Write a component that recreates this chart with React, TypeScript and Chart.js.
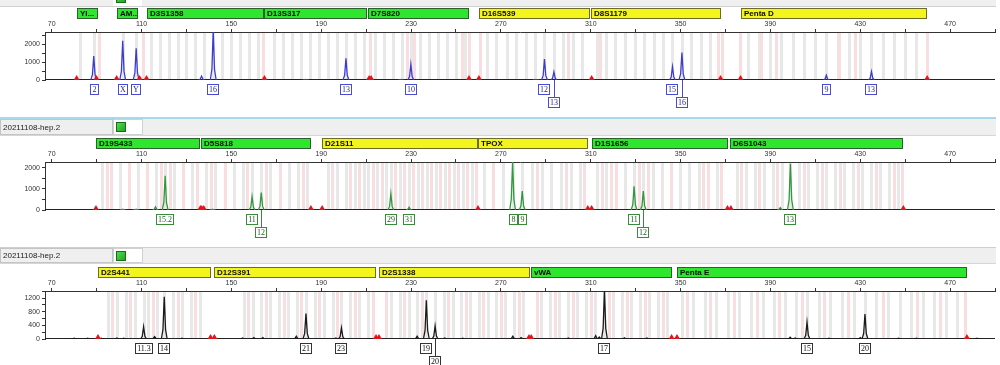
import React, { useEffect, useRef } from "react";
import { Chart, registerables } from "chart.js";

Chart.register(...registerables);

// ---------- shared axis data ----------
const X_MIN = 67;
const X_MAX = 490;
const xTickValues = [70, 90, 110, 130, 150, 170, 190, 210, 230, 250, 270, 290, 310, 330, 350, 370, 390, 410, 430, 450, 470, 490];
const xLabelValues = [70, 110, 150, 190, 230, 270, 310, 350, 390, 430, 470];
const sampleName = "20211108-hep.2";

// ---------- panel 1 (blue dye) ----------
const p1LocusNames = ["YI...", "AM...", "D3S1358", "D13S317", "D7S820", "D16S539", "D8S1179", "Penta D"];
const p1LocusStart = [81.1, 98.9, 112.2, 164.7, 211.0, 260.2, 310.0, 376.7];
const p1LocusEnd = [90.4, 108.2, 164.4, 210.4, 255.8, 309.6, 368.0, 459.8];
const p1LocusStatus = ["G", "G", "G", "G", "G", "Y", "Y", "Y"];
const p1PeakSizes = [88.7, 101.6, 107.6, 141.9, 201.0, 229.9, 289.4, 293.6, 346.4, 350.6, 414.9, 435.0];
const p1PeakHeights = [1350, 2200, 1790, 2750, 1220, 885, 1180, 450, 750, 1540, 265, 470];
const p1PeakLabels = ["2", "X", "Y", "16", "13", "10", "12", "13", "15", "16", "9", "13"];
const p1LabelRows = [0, 0, 0, 0, 0, 0, 0, 1, 0, 1, 0, 0];
const p1MinorSizes = [136.7, 183.0, 225.6, 285.6];
const p1MinorHeights = [220, 30, 30, 30];
const p1Markers = [81.1, 89.9, 98.9, 109.1, 112.2, 164.7, 211.3, 212.2, 255.8, 260.2, 310.4, 367.8, 376.7, 459.8];
const p1GrayBins = [82.5, 88.7, 101.6, 107.6, 114, 118, 122, 126, 130, 134, 138, 141.9, 146, 150, 154, 158, 162,
  169, 173, 177, 181, 185, 189, 193, 197, 201, 205, 209, 214, 218, 222, 226, 229.9, 234, 238, 242, 246, 250, 254,
  264, 268, 272.6, 276.8, 281, 285.2, 289.4, 293.6, 297.8, 302, 306, 313, 317, 321, 325.4, 329.6, 333.8, 338, 342.2,
  346.4, 350.6, 354.8, 359, 363.2, 379.9, 384.9, 389.9, 394.9, 399.9, 404.9, 409.9, 414.9, 419.9, 424.9, 430, 435,
  440, 445, 450, 455];
const p1PinkBins = [91, 110.5, 164, 211.5, 228, 231.5, 252.5, 256, 260.5, 300, 314, 366.5, 368.5, 376.5, 386, 392.5, 420.5, 427.5, 459.5];

// ---------- panel 2 (green dye) ----------
const p2LocusNames = ["D19S433", "D5S818", "D21S11", "TPOX", "D1S1656", "D6S1043"];
const p2LocusStart = [89.6, 136.5, 190.4, 259.8, 310.4, 372.0];
const p2LocusEnd = [136.1, 185.4, 259.8, 308.7, 370.9, 449.2];
const p2LocusStatus = ["G", "G", "Y", "Y", "G", "G"];
const p2PeakSizes = [120.5, 159.2, 163.3, 221.0, 229.1, 275.2, 279.5, 329.3, 333.4, 398.9];
const p2PeakHeights = [1620, 630, 830, 770, 130, 2300, 900, 1130, 900, 2200];
const p2PeakLabels = ["15.2", "11", "12", "29", "31", "8", "9", "11", "12", "13"];
const p2LabelRows = [0, 0, 1, 0, 0, 0, 0, 0, 1, 0];
const p2MinorSizes = [101.6, 107.6, 116.2, 141.6, 394.4];
const p2MinorHeights = [40, 40, 150, 40, 110];
const p2Markers = [89.7, 136.2, 136.8, 137.7, 185.4, 190.4, 259.8, 308.7, 310.4, 370.9, 372.4, 449.2];
const p2GrayBins = [92.5, 100.5, 108.5, 116.5, 120.5, 124.5, 132.5, 138.8, 142.9, 151, 155.1, 159.2, 163.3, 167.4,
  175.6, 179.7, 183.8, 193, 197, 201, 205, 209, 211, 215, 219, 221, 225, 229.1, 233, 237, 241, 245, 249, 253, 257,
  262.3, 270.9, 275.2, 279.5, 283.8, 288.1, 292.4, 296.7, 301, 305.3, 313, 317, 325.2, 329.3, 333.4, 337.5, 341.6,
  349.8, 353.9, 358, 366.2, 375, 379, 383, 387, 391, 395, 398.9, 402.9, 406.9, 410.9, 414.9, 418.9, 422.9, 426.9,
  430.9, 434.9, 438.9, 442.9, 446.9];
const p2PinkBins = [94.5, 96.5, 104.5, 112.5, 118.5, 122.5, 128.5, 134.5, 140.8, 147, 157.1, 165.3, 171.5, 181.7,
  195, 203, 207, 213, 217, 223, 227, 231, 235, 239, 243, 247, 251, 255, 259, 266.6, 286, 298.8, 307, 315, 319, 321.1,
  331.3, 335.4, 345.7, 360, 362.1, 368.2, 377, 385, 393, 404.9, 412.9, 420.9, 428.9, 436.9, 444.9, 448.5];

// ---------- panel 3 (black dye) ----------
const p3LocusNames = ["D2S441", "D12S391", "D2S1338", "vWA", "Penta E"];
const p3LocusStart = [90.6, 142.4, 215.5, 283.3, 348.4];
const p3LocusEnd = [140.7, 214.6, 282.9, 346.4, 477.7];
const p3LocusStatus = ["Y", "Y", "Y", "G", "G"];
const p3PeakSizes = [110.9, 120.1, 183.2, 199.0, 236.8, 240.7, 316.1, 406.3, 432.1];
const p3PeakHeights = [360, 1240, 750, 330, 1140, 380, 1420, 490, 730];
const p3PeakLabels = ["11.3", "14", "21", "23", "19", "20", "17", "15", "20"];
const p3LabelRows = [0, 0, 0, 0, 0, 1, 0, 0, 0];
const p3MinorSizes = [80.0, 86.0, 92.0, 99.0, 102.0, 115.8, 128.0, 155.0, 160.0, 164.0, 178.9, 196.5, 232.7, 245.0, 253.0, 275.3, 279.0, 300.0, 312.2, 313.8, 325.0, 335.0, 398.8, 401.0, 416.0, 430.0, 447.0, 455.0, 482.0];
const p3MinorHeights = [25, 25, 20, 30, 25, 70, 25, 30, 40, 40, 80, 30, 80, 30, 25, 80, 40, 30, 100, 60, 35, 30, 50, 30, 25, 40, 25, 25, 20];
const p3Markers = [90.6, 140.7, 142.4, 214.4, 215.7, 282.5, 283.5, 346.0, 348.4, 477.5];
const p3GrayBins = [95, 99, 103, 107, 110.9, 113, 117, 120.1, 124, 128, 132, 136, 155.5, 159.4, 163.3, 167.2, 171.1,
  175.2, 179.2, 183.2, 187.2, 191.1, 195.1, 199, 203, 207, 211, 221, 225, 229, 232.8, 236.8, 240.7, 244.6, 248.5,
  252.4, 256.3, 260.2, 264.1, 268, 272, 276, 280, 288, 292, 296, 300, 304, 308, 312, 316.1, 320, 324, 328, 332, 336,
  340, 344, 350.5, 355.7, 360.8, 365.9, 371, 376.2, 381.3, 386.5, 391.6, 396.7, 401.2, 406.3, 411.5, 416.7, 421.8,
  427, 432.1, 437.2, 442.4, 447.5, 452.7, 457.8, 463, 468.1, 473.2];
const p3PinkBins = [97, 105, 115, 126, 134, 157.4, 165.2, 173.2, 181.2, 189.1, 197, 205, 213, 219, 227, 234.8, 246.5,
  254.3, 262.1, 270, 278, 286, 294, 302, 310, 318, 326, 334, 342, 353, 363.3, 373.6, 384, 394, 404, 414, 424.4, 440,
  455.2, 465.5, 476.5];

// ---------- styling ----------
const FONT = "Liberation Sans";
const X_AXIS_H = 13;
const Y_AXIS_W = 45;
const PEAK_HALF = 1.3;

type Panel = {
  top: number; height: number; chartTop: number; chartBottom: number;
  header: "partial" | "cyan" | "line"; yMax: number; yTicks: number[]; yLabels: number[];
  traceColor: string; boxColor: string; textColor: string;
  lociNames: string[]; lociStart: number[]; lociEnd: number[]; lociStatus: string[];
  peakSizes: number[]; peakHeights: number[]; peakLabels: string[]; labelRows: number[];
  minorSizes: number[]; minorHeights: number[]; markers: number[]; grayBins: number[]; pinkBins: number[];
};

const panels: Panel[] = [
  {
    top: 0, height: 117, chartTop: 32, chartBottom: 80, header: "partial", yMax: 2700,
    yTicks: [0, 500, 1000, 1500, 2000, 2500], yLabels: [0, 1000, 2000],
    traceColor: "#3c3cd2", boxColor: "#4a4ad8", textColor: "#1e1e8c",
    lociNames: p1LocusNames, lociStart: p1LocusStart, lociEnd: p1LocusEnd, lociStatus: p1LocusStatus,
    peakSizes: p1PeakSizes, peakHeights: p1PeakHeights, peakLabels: p1PeakLabels, labelRows: p1LabelRows,
    minorSizes: p1MinorSizes, minorHeights: p1MinorHeights, markers: p1Markers, grayBins: p1GrayBins, pinkBins: p1PinkBins,
  },
  {
    top: 117, height: 123, chartTop: 45, chartBottom: 93, header: "cyan", yMax: 2280,
    yTicks: [0, 500, 1000, 1500, 2000], yLabels: [0, 1000, 2000],
    traceColor: "#2f9a3a", boxColor: "#3a8a3a", textColor: "#1a5a1a",
    lociNames: p2LocusNames, lociStart: p2LocusStart, lociEnd: p2LocusEnd, lociStatus: p2LocusStatus,
    peakSizes: p2PeakSizes, peakHeights: p2PeakHeights, peakLabels: p2PeakLabels, labelRows: p2LabelRows,
    minorSizes: p2MinorSizes, minorHeights: p2MinorHeights, markers: p2Markers, grayBins: p2GrayBins, pinkBins: p2PinkBins,
  },
  {
    top: 240, height: 125, chartTop: 51, chartBottom: 99, header: "line", yMax: 1410,
    yTicks: [0, 200, 400, 600, 800, 1000, 1200, 1400], yLabels: [0, 400, 800, 1200],
    traceColor: "#1a1a1a", boxColor: "#333333", textColor: "#111111",
    lociNames: p3LocusNames, lociStart: p3LocusStart, lociEnd: p3LocusEnd, lociStatus: p3LocusStatus,
    peakSizes: p3PeakSizes, peakHeights: p3PeakHeights, peakLabels: p3PeakLabels, labelRows: p3LabelRows,
    minorSizes: p3MinorSizes, minorHeights: p3MinorHeights, markers: p3Markers, grayBins: p3GrayBins, pinkBins: p3PinkBins,
  },
];

function buildTrace(p: Panel) {
  const sizes = [...p.peakSizes, ...p.minorSizes];
  const heights = [...p.peakHeights, ...p.minorHeights];
  const order = sizes.map((_, i) => i).sort((a, b) => sizes[a] - sizes[b]);
  const pts: { x: number; y: number | null }[] = [];
  for (const i of order) {
    const s = sizes[i];
    const h = heights[i];
    pts.push(
      { x: s - PEAK_HALF, y: 0 },
      { x: s - PEAK_HALF * 0.45, y: h * 0.22 },
      { x: s, y: h },
      { x: s + PEAK_HALF * 0.45, y: h * 0.22 },
      { x: s + PEAK_HALF, y: 0 },
      { x: s + PEAK_HALF, y: null }
    );
  }
  return pts;
}

function drawGreenIcon(ctx: CanvasRenderingContext2D, x: number, y: number) {
  const g = ctx.createLinearGradient(x, y, x + 10, y + 10);
  g.addColorStop(0, "#5be05b");
  g.addColorStop(1, "#18a018");
  ctx.fillStyle = g;
  ctx.fillRect(x, y, 10, 10);
  ctx.strokeStyle = "#1a6a1a";
  ctx.lineWidth = 1;
  ctx.strokeRect(x + 0.5, y + 0.5, 9, 9);
}

function makePlugin(p: Panel) {
  return {
    id: "strPanel",
    beforeDatasetsDraw(chart: any) {
      const { ctx, chartArea, scales } = chart;
      const { top, left, right, bottom } = chartArea;
      const x = scales.x;
      const y0 = Math.round(scales.y.getPixelForValue(0));
      ctx.save();
      ctx.beginPath();
      ctx.rect(left + 1, top + 1, right - left - 1, bottom - top);
      ctx.clip();
      ctx.fillStyle = "#e8e8e8";
      for (const b of p.grayBins) {
        const px = Math.round(x.getPixelForValue(b));
        ctx.fillRect(px - 1, top + 1, 3, y0 - top - 2);
      }
      ctx.fillStyle = "#f8dede";
      for (const b of p.pinkBins) {
        const px = Math.round(x.getPixelForValue(b));
        ctx.fillRect(px - 1, top + 1, 3, y0 - top - 2);
      }
      ctx.restore();
      ctx.save();
      ctx.fillStyle = "#222";
      ctx.fillRect(left, y0 - 1, right - left, 1);
      ctx.restore();
    },
    afterDraw(chart: any) {
      const { ctx, chartArea, scales } = chart;
      const { top, bottom } = chartArea;
      const x = scales.x;
      const y0 = Math.round(scales.y.getPixelForValue(0));
      ctx.save();

      // size-standard markers (red triangles)
      ctx.fillStyle = "#e3141a";
      for (const m of p.markers) {
        const px = x.getPixelForValue(m);
        ctx.beginPath();
        ctx.moveTo(px - 3, y0);
        ctx.lineTo(px + 3, y0);
        ctx.lineTo(px, y0 - 5);
        ctx.closePath();
        ctx.fill();
      }

      // header strip
      const W = 996;
      if (p.header === "partial") {
        ctx.fillStyle = "#efefef";
        ctx.fillRect(0, 0, W, 6);
        ctx.fillStyle = "#d0d0d0";
        ctx.fillRect(0, 6, W, 1);
        ctx.fillStyle = "#ffffff";
        ctx.fillRect(113, 0, 29, 6);
        drawGreenIcon(ctx, 116, -7);
      } else {
        const sTop = p.header === "cyan" ? 2 : 8;
        const sBot = p.header === "cyan" ? 18 : 23;
        if (p.header === "cyan") {
          ctx.fillStyle = "#a3dbe8";
          ctx.fillRect(0, 0, W, 2);
        } else {
          ctx.fillStyle = "#cfcfcf";
          ctx.fillRect(0, sTop - 1, W, 1);
        }
        ctx.fillStyle = "#efefef";
        ctx.fillRect(0, sTop, W, sBot - sTop);
        ctx.fillStyle = "#d6d6d6";
        ctx.fillRect(0, sBot, W, 1);
        ctx.strokeStyle = "#c4c4c4";
        ctx.lineWidth = 1;
        ctx.strokeRect(0.5, sTop + 0.5, 112, sBot - sTop - 1);
        ctx.fillStyle = "#ffffff";
        ctx.fillRect(113, sTop, 29, sBot - sTop);
        ctx.strokeStyle = "#d0d0d0";
        ctx.strokeRect(113.5, sTop + 0.5, 29, sBot - sTop - 1);
        drawGreenIcon(ctx, 116, sTop + Math.round((sBot - sTop - 10) / 2));
        ctx.fillStyle = "#222";
        ctx.font = `8px "${FONT}"`;
        ctx.textBaseline = "middle";
        ctx.textAlign = "left";
        ctx.fillText(sampleName, 3, (sTop + sBot) / 2 + 0.5);
      }

      // locus bars
      const barTop = top - 24;
      const barH = 11;
      for (let i = 0; i < p.lociNames.length; i++) {
        const x1 = Math.round(x.getPixelForValue(p.lociStart[i]));
        const x2 = Math.round(x.getPixelForValue(p.lociEnd[i]));
        const green = p.lociStatus[i] === "G";
        ctx.fillStyle = green ? "#2fe62f" : "#f5f51e";
        ctx.fillRect(x1, barTop, x2 - x1, barH);
        ctx.strokeStyle = green ? "#2d5f2d" : "#6b6b2a";
        ctx.lineWidth = 1;
        ctx.strokeRect(x1 + 0.5, barTop + 0.5, x2 - x1 - 1, barH - 1);
        ctx.save();
        ctx.beginPath();
        ctx.rect(x1, barTop, x2 - x1 - 1, barH);
        ctx.clip();
        ctx.fillStyle = "#0a0a0a";
        ctx.font = `bold 8px "${FONT}"`;
        ctx.textBaseline = "middle";
        ctx.textAlign = "left";
        ctx.fillText(p.lociNames[i], x1 + 3, barTop + barH / 2 + 0.5);
        ctx.restore();
      }

      // allele call labels
      ctx.font = `8px "Liberation Serif"`;
      ctx.textBaseline = "middle";
      ctx.textAlign = "center";
      for (let i = 0; i < p.peakLabels.length; i++) {
        const px = Math.round(x.getPixelForValue(p.peakSizes[i]));
        const row = p.labelRows[i];
        const bTop = bottom + 4 + row * 13;
        const tw = ctx.measureText(p.peakLabels[i]).width;
        const bw = Math.max(Math.ceil(tw) + 4, 9);
        const bx = px - Math.floor(bw / 2);
        if (row > 0) {
          ctx.fillStyle = p.boxColor;
          ctx.fillRect(px, bottom, 1, bTop - bottom);
        }
        ctx.fillStyle = "#ffffff";
        ctx.fillRect(bx, bTop, bw, 11);
        ctx.strokeStyle = p.boxColor;
        ctx.lineWidth = 1;
        ctx.strokeRect(bx + 0.5, bTop + 0.5, bw - 1, 10);
        ctx.fillStyle = p.textColor;
        ctx.fillText(p.peakLabels[i], bx + bw / 2, bTop + 6);
      }
      ctx.restore();
    },
  };
}

function PanelChart({ p }: { p: Panel }) {
  const ref = useRef<HTMLCanvasElement | null>(null);
  useEffect(() => {
    if (!ref.current) return;
    const chart = new Chart(ref.current, {
      type: "line",
      data: {
        datasets: [
          {
            data: buildTrace(p) as any,
            borderColor: p.traceColor,
            borderWidth: 1.3,
            pointRadius: 0,
            fill: false,
            tension: 0,
            spanGaps: false,
          },
        ],
      },
      options: {
        animation: false,
        responsive: false,
        maintainAspectRatio: false,
        events: [],
        layout: {
          padding: { top: p.chartTop - X_AXIS_H, bottom: p.height - p.chartBottom, left: 0, right: 5 },
        },
        plugins: { legend: { display: false }, tooltip: { enabled: false } },
        scales: {
          x: {
            type: "linear",
            position: "top",
            min: X_MIN,
            max: X_MAX,
            afterBuildTicks: (s: any) => {
              s.ticks = xTickValues.map((v) => ({ value: v }));
            },
            afterFit: (s: any) => {
              s.height = X_AXIS_H;
            },
            ticks: {
              autoSkip: false,
              maxRotation: 0,
              padding: 1,
              color: "#333",
              font: { family: FONT, size: 7 },
              callback: (v: any) => (xLabelValues.includes(Number(v)) ? String(v) : ""),
            },
            grid: { drawOnChartArea: false, drawTicks: true, tickLength: 3, color: "#333" },
            border: { display: true, color: "#333", width: 1 },
          },
          y: {
            type: "linear",
            min: 0,
            max: p.yMax,
            afterBuildTicks: (s: any) => {
              s.ticks = p.yTicks.map((v) => ({ value: v }));
            },
            afterFit: (s: any) => {
              s.width = Y_AXIS_W;
            },
            ticks: {
              autoSkip: false,
              padding: 2,
              color: "#333",
              font: { family: FONT, size: 7 },
              callback: (v: any) => (p.yLabels.includes(Number(v)) ? String(v) : ""),
            },
            grid: { drawOnChartArea: false, drawTicks: true, tickLength: 3, color: "#333" },
            border: { display: true, color: "#333", width: 1 },
          },
        },
      } as any,
      plugins: [makePlugin(p) as any],
    });
    return () => chart.destroy();
  }, [p]);
  return (
    <canvas
      ref={ref}
      width={1000}
      height={p.height}
      style={{ position: "absolute", left: 0, top: p.top, width: 1000, height: p.height, display: "block" }}
    />
  );
}

export default function App() {
  return (
    <div style={{ position: "absolute", left: 0, top: 0, width: 1000, height: 365, background: "#ffffff", overflow: "hidden" }}>
      {panels.map((p, i) => (
        <PanelChart key={i} p={p} />
      ))}
    </div>
  );
}
